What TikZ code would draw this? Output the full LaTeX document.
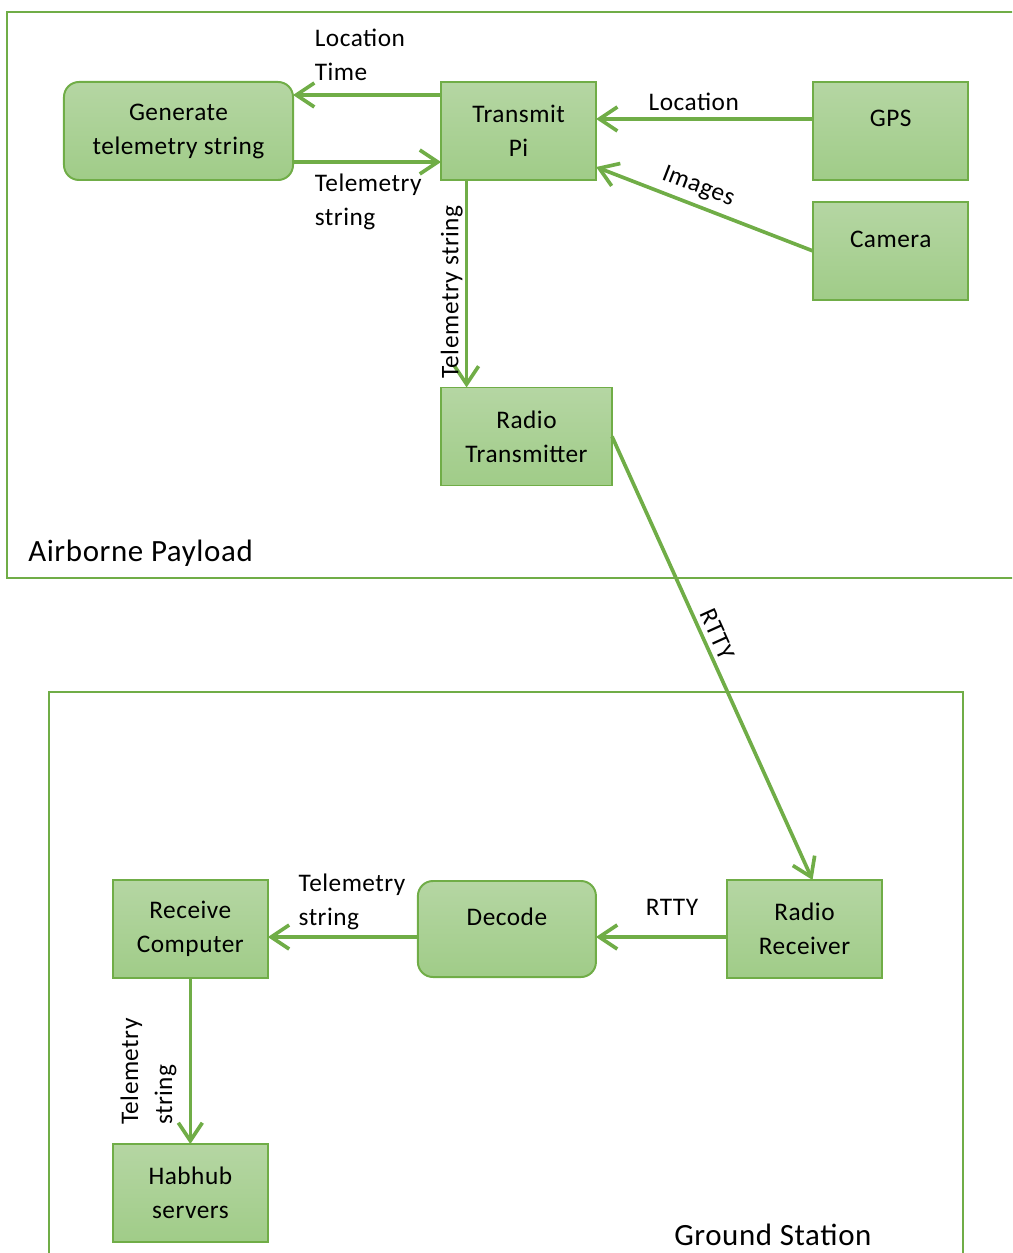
\documentclass[tikz,border=0pt]{standalone}
\usepackage{fontspec}
\setmainfont{Carlito}[LetterSpace=2]
\usetikzlibrary{positioning}
\usetikzlibrary{arrows.meta}
\definecolor{grn}{HTML}{70AD47}
\definecolor{boxtop}{HTML}{B5D6A3}
\definecolor{boxbot}{HTML}{A0CC88}

\begin{document}
\begin{tikzpicture}[x=0.025cm,y=-0.025cm,
	blk/.style={draw=grn, line width=1.4pt, top color=boxtop, bottom color=boxbot, minimum width=3.875cm, minimum height=2.45cm, inner sep=0pt, outer sep=0pt, align=center, font=\fontsize{18}{24.2}\selectfont},
	up/.style={text height=0.45cm, text depth=0.65cm},
	rnd/.style={rounded corners=0.375cm},
	conn/.style={draw=grn, line width=2.6pt, -{Straight Barb[length=0.45cm,width=0.6cm]}},
	lbl/.style={inner sep=0pt, align=left, font=\fontsize{18}{24.2}\selectfont},
	frm/.style={draw=grn, line width=1.4pt},
	ttl/.style={inner sep=0pt, font=\fontsize{22}{26}\selectfont}]
		\useasboundingbox (0,0) rectangle (1012,1253);
		\clip (0,0) rectangle (1012,1253);
		\draw[frm] (7,12) rectangle (1040,578);
		\draw[frm] (49,692) rectangle (963,1280);
		\node (gen) [blk, rnd, minimum width=5.725cm] at (178.5,131) {Generate\\telemetry string};
		\node (pi) [blk, right=3.7cm of gen] {Transmit\\Pi};
		\node (gps) [blk, up, right=5.425cm of pi] {GPS};
		\node (cam) [blk, up, below=0.55cm of gps] {Camera};
		\node (rtx) [blk, minimum width=4.275cm] at (526.5,436.5) {Radio\\Transmitter};
		\node (rrx) [blk] at (804.5,929) {Radio\\Receiver};
		\node (dec) [blk, up, rnd, minimum width=4.45cm, minimum height=2.4cm, left=3.275cm of rrx] {Decode};
		\node (rcv) [blk, left=3.75cm of dec] {Receive\\Computer};
		\node (hab) [blk, below=4.15cm of rcv] {Habhub\\servers};
		\node (ap) [ttl, anchor=west] at (28,553) {Airborne Payload};
		\node (gs) [ttl, anchor=west] at (674,1235) {Ground Station};
		\draw[conn] ([yshift=0.9cm]pi.west) -- node[lbl, pos=0.865, anchor=south west, yshift=0.3cm] (lt) {Location\\Time} ([yshift=0.9cm]gen.east);
		\draw[conn] ([yshift=-0.775cm]gen.east) -- node[lbl, pos=0.135, anchor=north west, yshift=-0.25cm] (ts1) {Telemetry\\string} ([yshift=-0.775cm]pi.west);
		\draw[conn] ([yshift=0.3cm]gps.west) -- node[lbl, pos=0.55, above=0.15cm] (lc) {Location} ([yshift=0.3cm]pi.east);
		\draw[conn] (cam.west) -- node[lbl, sloped, pos=0.56, above=0.15cm] (im) {Images} ([yshift=-0.9cm]pi.east);
		\draw[conn] ([xshift=-1.3cm]pi.south) -- node[lbl, pos=0.54, rotate=90, anchor=south, inner sep=1.5pt] (ts2) {Telemetry string} ([xshift=-1.3cm]pi.south |- rtx.north);
		\draw[conn] (rtx.east) -- node[lbl, sloped, pos=0.46, above=0.12cm] (rt1) {RTTY} ([xshift=0.2cm]rrx.north);
		\draw[conn] ([yshift=-0.2cm]rrx.west) -- node[lbl, pos=0.42, above=0.5cm] (rt2) {RTTY} ([yshift=-0.2cm]dec.east);
		\draw[conn] ([yshift=-0.2cm]dec.west) -- node[lbl, pos=0.807, anchor=south west, yshift=0.125cm] (ts3) {Telemetry\\string} ([yshift=-0.2cm]rcv.east);
		\draw[conn] (rcv.south) -- node[lbl, pos=0.896, xshift=-0.3cm, rotate=90, anchor=south west] (ts4) {Telemetry\\string} (hab.north);
\end{tikzpicture}
\end{document}
